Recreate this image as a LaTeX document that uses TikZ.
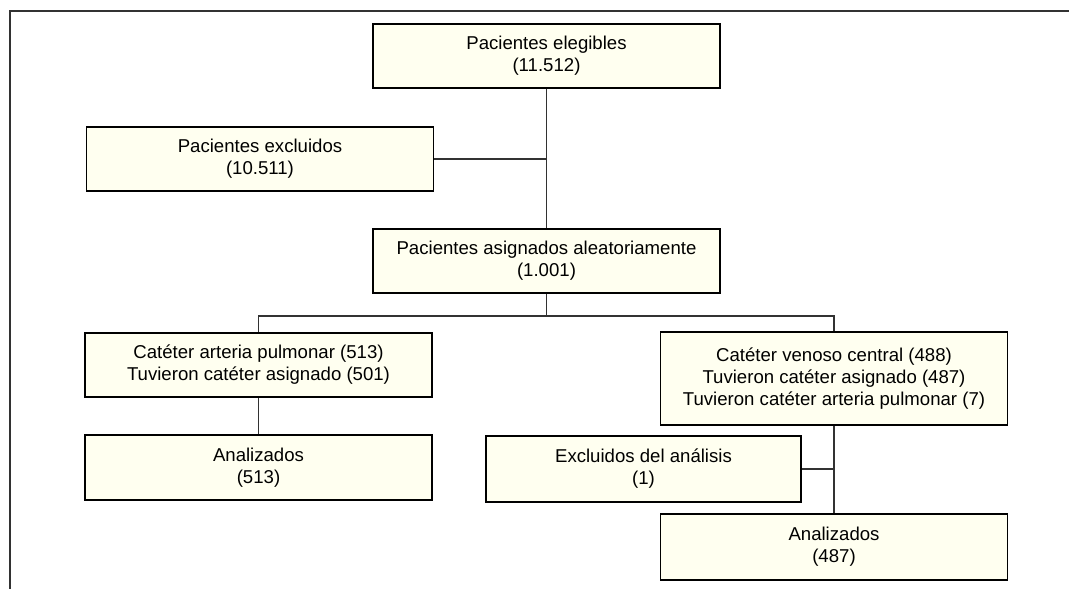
\documentclass[tikz,border=0pt]{standalone}
\usepackage{fontspec}
\setmainfont{Liberation Sans}
\definecolor{boxfill}{RGB}{255,255,240}
\definecolor{linegray}{RGB}{50,50,50}
\begin{document}
\begin{tikzpicture}[x=1pt,y=-1pt,
  box/.style={draw=black,line width=1.6pt,fill=boxfill,minimum width=347pt,
    minimum height=64pt,inner sep=0pt,align=center,
    font=\fontsize{18.6}{22}\selectfont},
  link/.style={line width=1.2pt,draw=linegray}]
  \useasboundingbox (0,0) rectangle (1069,589);
  \draw[line width=1.8pt,linegray] (10,589) -- (10,11) -- (1069,11);

  \node[box] (elig) at (546.5,56) {Pacientes elegibles\\(11.512)};
  \node[box] (excl) at (260,159) {Pacientes excluidos\\(10.511)};
  \node[box] (rand) at (546.5,261) {Pacientes asignados aleatoriamente\\(1.001)};
  \node[box] (cap) at (258.5,365) {Catéter arteria pulmonar (513)\\Tuvieron catéter asignado (501)};
  \node[box,minimum height=93pt] (cvc) at (834,378.5) {Catéter venoso central (488)\\Tuvieron catéter asignado (487)\\Tuvieron catéter arteria pulmonar (7)};
  \node[box,minimum height=65pt] (anacap) at (258.5,467.5) {Analizados\\(513)};
  \node[box,minimum width=315pt,minimum height=66pt] (exana) at (643.5,469) {Excluidos del análisis\\(1)};
  \node[box,minimum height=66pt] (anacvc) at (834,547) {Analizados\\(487)};

  \coordinate (split) at (546.5,316);
  \draw[link] (elig.south) -- (rand.north);
  \draw[link] (excl.east) -- (elig.south |- excl.east);
  \draw[link] (rand.south) -- (split);
  \draw[link] (cap.north) |- (split) -| (cvc.north);
  \draw[link] (cap.south) -- (anacap.north);
  \draw[link] (cvc.south) -- (anacvc.north);
  \draw[link] (exana.east) -- (cvc.south |- exana.east);
\end{tikzpicture}
\end{document}
